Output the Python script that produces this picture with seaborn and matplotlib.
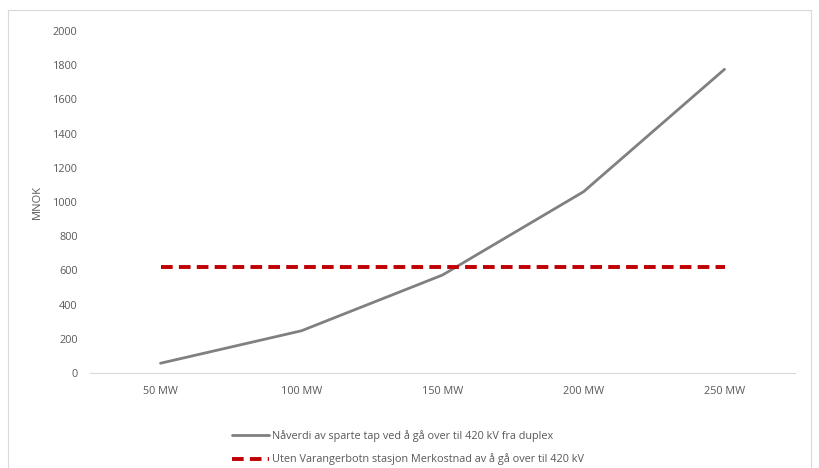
import pandas as pd
import matplotlib.pyplot as plt
import seaborn as sns
from matplotlib.patches import Rectangle

# data
kapasitet = ['50 MW', '100 MW', '150 MW', '200 MW', '250 MW']
naaverdi = [57, 247, 573, 1060, 1776]
merkostnad = [618, 618, 618, 618, 618]

lbl_1 = 'Nåverdi av sparte tap ved å gå over til 420 kV fra duplex'
lbl_2 = 'Uten Varangerbotn stasjon Merkostnad av å gå over til 420 kV'

df = pd.DataFrame({'pos': range(len(kapasitet)), 'kap': kapasitet,
                   'nv': naaverdi, 'mk': merkostnad})

sns.set_style('white')
plt.rcParams['font.family'] = ['Open Sans', 'DejaVu Sans']

fig = plt.figure(figsize=(8.19, 4.68), dpi=100)
ax = fig.add_axes([90/819, 1 - 373/468, 705/819, 342/468])

sns.lineplot(data=df, x='pos', y='nv', ax=ax, color='#808080', lw=2.0, label=lbl_1)
sns.lineplot(data=df, x='pos', y='mk', ax=ax, color='#c00000', lw=2.8,
             linestyle=(0, (3, 1.6)), label=lbl_2)

ax.set_xlim(-0.5, len(kapasitet) - 0.5)
ax.set_ylim(0, 2000)
ax.set_yticks(range(0, 2001, 200))
ax.set_xticks(df['pos'])
ax.set_xticklabels(kapasitet)
ax.tick_params(axis='both', labelsize=7.8, colors='#595959', length=0)
ax.tick_params(axis='y', pad=9)
ax.tick_params(axis='x', pad=9)
ax.set_xlabel('')
ax.set_ylabel('MNOK', fontsize=8, color='#595959')
ax.yaxis.set_label_coords(-47/705, 0.5)

for s in ['top', 'right', 'left']:
    ax.spines[s].set_visible(False)
ax.spines['bottom'].set_color('#d9d9d9')
ax.spines['bottom'].set_linewidth(0.8)

ax.legend(loc='upper left', bbox_to_anchor=(222/819, 1 - 420/468),
          bbox_transform=fig.transFigure, frameon=False, fontsize=7.8,
          labelcolor='#595959', handlelength=3.4, handletextpad=0.3,
          labelspacing=1.1)

# light frame around the chart area
fig.patches.append(Rectangle((8/819, 0), 803/819, 1 - 10/468, transform=fig.transFigure,
                             fill=False, edgecolor='#d9d9d9', lw=0.8))

plt.savefig('out.png', dpi=100)
